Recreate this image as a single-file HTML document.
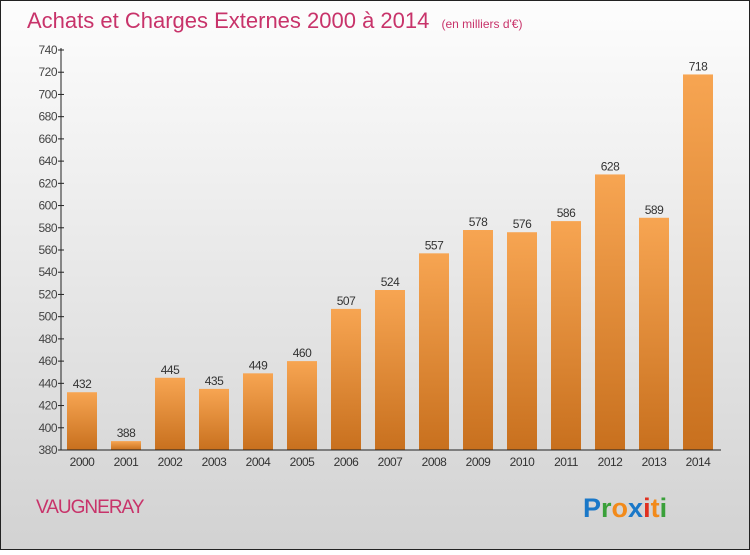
<!DOCTYPE html>
<html><head><meta charset="utf-8"><style>
body{margin:0;width:750px;height:550px;overflow:hidden}
</style></head><body>
<svg id="c" width="750" height="550" xmlns="http://www.w3.org/2000/svg" font-family="Liberation Sans, sans-serif">
<defs>
<linearGradient id="bg" x1="0" y1="0" x2="0" y2="1"><stop offset="0" stop-color="#fdfdfd"/><stop offset="1" stop-color="#d2d2d2"/></linearGradient>
<linearGradient id="bar" x1="0" y1="0" x2="0" y2="1"><stop offset="0" stop-color="#f7a552"/><stop offset="1" stop-color="#c8701e"/></linearGradient>
</defs>
<rect x="0.5" y="0.5" width="749" height="549" fill="url(#bg)" stroke="#222"/>
<text x="27" y="28" font-size="22" fill="#c8336a">Achats et Charges Externes 2000 à 2014 <tspan font-size="12" dx="6">(en milliers d'€)</tspan></text>
<g id="plot"></g>
<text x="36" y="513" font-size="19" fill="#c8336a" letter-spacing="-1">VAUGNERAY</text>
<text x="583" y="517" font-size="27" font-weight="bold"><tspan fill="#1a78c8">P</tspan><tspan fill="#3aa03a">r</tspan><tspan fill="#f28a1a">o</tspan><tspan fill="#1a78c8">x</tspan><tspan fill="#e03020">i</tspan><tspan fill="#f28a1a">t</tspan><tspan fill="#3aa03a">i</tspan></text>
</svg>
<script>
const categories=["2000","2001","2002","2003","2004","2005","2006","2007","2008","2009","2010","2011","2012","2013","2014"];
const values=[432,388,445,435,449,460,507,524,557,578,576,586,628,589,718];
const yTicks=[380,400,420,440,460,480,500,520,540,560,580,600,620,640,660,680,700,720,740];
const NS="http://www.w3.org/2000/svg";
const g=document.getElementById('plot');
const yMin=380,yMax=740,plotTop=50,plotBot=450;
const yS=v=>plotBot-(v-yMin)/(yMax-yMin)*(plotBot-plotTop);
const xS=i=>82+i*44;
function el(t,a){const e=document.createElementNS(NS,t);for(const k in a)e.setAttribute(k,a[k]);g.appendChild(e);return e;}
yTicks.forEach(t=>{
 const l=el('line',{x1:58,x2:64,y1:yS(t),y2:yS(t),stroke:'#222'});
 
 
 const tx=el('text',{x:57,y:yS(t)+4,'font-size':12,fill:'#444','text-anchor':'end','letter-spacing':'-0.5'});
 tx.textContent=t;
 
 
});
categories.forEach((c,i)=>{
 const v=values[i];
 const r=el('rect',{x:xS(i)-15,y:yS(v),width:30,height:plotBot-yS(v),fill:'url(#bar)'});
 
 
 const vl=el('text',{x:xS(i),y:yS(v)-4,'font-size':12,fill:'#333','text-anchor':'middle','letter-spacing':'-0.5'});
 vl.textContent=v;
 
 
 const xl=el('text',{x:xS(i),y:466,'font-size':12,fill:'#333','text-anchor':'middle','letter-spacing':'-0.5'});
 xl.textContent=c;
 
 
});
const ya=el('line',{x1:61,x2:61,y1:48,y2:450,stroke:'#222'});


const xa=el('line',{x1:61,x2:721,y1:450,y2:450,stroke:'#222'});


</script>
</body></html>
